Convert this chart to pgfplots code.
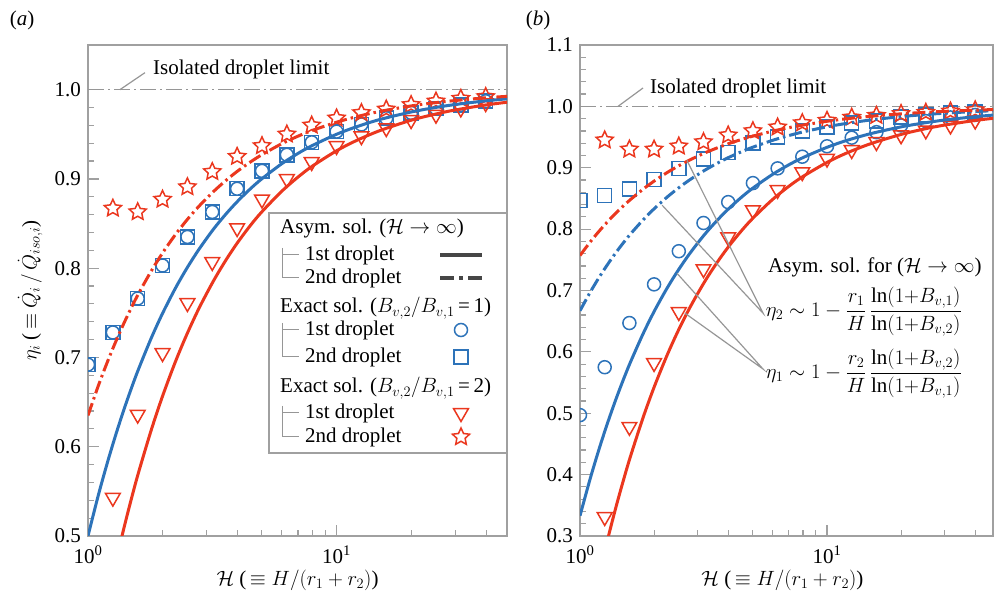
\documentclass[border=0pt]{standalone}
\usepackage{fontspec}
\setmainfont{Liberation Serif}
\usepackage{pgfplots}
\pgfplotsset{compat=1.18}
\definecolor{cblue}{RGB}{45,115,185}
\definecolor{cred}{RGB}{235,55,30}
\definecolor{caxis}{RGB}{160,160,160}
\definecolor{cleg}{RGB}{70,70,70}
\definecolor{cann}{RGB}{150,150,150}
\newcommand\fnt{\fontsize{21bp}{25bp}\selectfont}
\pgfdeclareplotmark{ostar}{%
  \pgfpathmoveto{\pgfpointpolar{90}{\pgfplotmarksize}}%
  \pgfpathlineto{\pgfpointpolar{126}{0.48\pgfplotmarksize}}%
  \pgfpathlineto{\pgfpointpolar{162}{\pgfplotmarksize}}%
  \pgfpathlineto{\pgfpointpolar{198}{0.48\pgfplotmarksize}}%
  \pgfpathlineto{\pgfpointpolar{234}{\pgfplotmarksize}}%
  \pgfpathlineto{\pgfpointpolar{270}{0.48\pgfplotmarksize}}%
  \pgfpathlineto{\pgfpointpolar{306}{\pgfplotmarksize}}%
  \pgfpathlineto{\pgfpointpolar{342}{0.48\pgfplotmarksize}}%
  \pgfpathlineto{\pgfpointpolar{18}{\pgfplotmarksize}}%
  \pgfpathlineto{\pgfpointpolar{54}{0.48\pgfplotmarksize}}%
  \pgfpathclose\pgfusepathqstroke}
\tikzset{
  mydd/.style={dash pattern=on 13bp off 4bp on 2.5bp off 4bp},
  myiso/.style={draw=cann, line width=1.3bp, dash pattern=on 16bp off 4bp on 2bp off 4bp},
}
\begin{document}
\begin{tikzpicture}[font=\fnt]
% ---------------- panel (a)
\begin{axis}[scale only axis, xmode=log, xmin=1, xmax=48.5, height=491bp, width=419bp,
  at={(88bp,60bp)}, anchor=south west,
  ymin=0.5, ymax=1.05, ytick={0.5,0.6,0.7,0.8,0.9,1.0},
  axis line style={caxis, line width=1.2bp},
  tick style={caxis, line width=1.2bp},
  major tick length=11bp, minor tick length=6bp,
  tick align=inside, xtick pos=bottom, ytick pos=left,
  xtick={1,10}, xticklabels={10\textsuperscript{0},10\textsuperscript{1}},
  minor xtick={2,3,4,5,6,7,8,9,20,30,40},
  minor y tick num=4, clip marker paths=true,
  /pgf/number format/assume math mode=true,
  yticklabel style={inner sep=0pt, xshift=-7bp, /pgf/number format/fixed,/pgf/number format/fixed zerofill,/pgf/number format/precision=1},
  xticklabel style={inner sep=0pt, yshift=-10bp},
  tick label style={font=\fnt}, label style={font=\fnt},
  xlabel={$\mathcal{H}$ (\,$\equiv H/(r_1+r_2)$)},
  xlabel style={at={(axis description cs:0.5,-0.09)}, anchor=center},
  ylabel={$\eta_i$ (\,$\equiv \dot{Q}_i\,/\,\dot{Q}_{iso,i}$)},
  ylabel style={at={(axis description cs:-0.138,0.5)}, anchor=center}]
\addplot[myiso] coordinates {(1,1) (50,1)};
\addplot[only marks, cblue, mark=o, mark size=6.5bp, line width=1.5bp] coordinates {(1,0.692)(1.259,0.728)(1.585,0.766)(1.995,0.803)(2.512,0.835)(3.162,0.863)(3.981,0.889)(5.012,0.909)(6.310,0.927)(7.943,0.941)(10,0.953)(12.59,0.961)(15.85,0.968)(19.95,0.974)(25.12,0.979)(31.62,0.983)(39.81,0.987)(50.12,0.990)};
\addplot[only marks, cblue, mark=square, mark size=7bp, line width=1.5bp] coordinates {(1,0.692)(1.259,0.728)(1.585,0.766)(1.995,0.803)(2.512,0.835)(3.162,0.863)(3.981,0.889)(5.012,0.909)(6.310,0.927)(7.943,0.941)(10,0.953)(12.59,0.961)(15.85,0.968)(19.95,0.974)(25.12,0.979)(31.62,0.983)(39.81,0.987)(50.12,0.990)};
\addplot[only marks, cred, mark=triangle, mark size=8.5bp, line width=1.5bp, mark options={rotate=180}] coordinates {(1.259,0.543)(1.585,0.636)(1.995,0.705)(2.512,0.761)(3.162,0.807)(3.981,0.845)(5.012,0.877)(6.310,0.900)(7.943,0.919)(10,0.937)(12.59,0.948)(15.85,0.957)(19.95,0.966)(25.12,0.972)(31.62,0.979)(39.81,0.985)(50.12,0.988)};
\addplot[only marks, cred, mark=ostar, mark size=9bp, line width=1.5bp] coordinates {(1.259,0.867)(1.585,0.863)(1.995,0.877)(2.512,0.891)(3.162,0.908)(3.981,0.925)(5.012,0.937)(6.310,0.950)(7.943,0.960)(10,0.968)(12.59,0.974)(15.85,0.978)(19.95,0.983)(25.12,0.987)(31.62,0.990)(39.81,0.992)(50.12,0.994)};
\addplot[cblue, line width=3bp, smooth] coordinates {(1,0.5)(1.1,0.5455)(1.2,0.5833)(1.3,0.6154)(1.4,0.6429)(1.5,0.6667)(1.6,0.6875)(1.8,0.7222)(2,0.75)(2.25,0.7778)(2.5,0.8)(2.8,0.8214)(3.2,0.8438)(3.6,0.8611)(4,0.875)(4.5,0.8889)(5,0.9)(6,0.9167)(7,0.9286)(8,0.9375)(10,0.95)(12,0.9583)(15,0.9667)(20,0.975)(25,0.98)(30,0.9833)(40,0.9875)(50,0.99)};
\addplot[cred, line width=3bp, smooth] coordinates {(1.3,0.4731)(1.4,0.5107)(1.5,0.5433)(1.6,0.5719)(1.8,0.6194)(2,0.6575)(2.25,0.6956)(2.5,0.726)(2.8,0.7554)(3.2,0.7859)(3.6,0.8097)(4,0.8288)(4.5,0.8478)(5,0.863)(6,0.8858)(7,0.9021)(8,0.9144)(10,0.9315)(12,0.9429)(15,0.9543)(20,0.9658)(25,0.9726)(30,0.9772)(40,0.9829)(50,0.9863)};
\addplot[cred, line width=3bp, mydd, smooth] coordinates {(1,0.635)(1.1,0.6682)(1.2,0.6958)(1.3,0.7192)(1.4,0.7393)(1.5,0.7567)(1.6,0.7719)(1.8,0.7972)(2,0.8175)(2.25,0.8378)(2.5,0.854)(2.8,0.8696)(3.2,0.8859)(3.6,0.8986)(4,0.9088)(4.5,0.9189)(5,0.927)(6,0.9392)(7,0.9479)(8,0.9544)(10,0.9635)(12,0.9696)(15,0.9757)(20,0.9818)(25,0.9854)(30,0.9878)(40,0.9909)(50,0.9927)};
\draw[cann, line width=1.2bp] (axis cs:1.345,1.0) -- (axis cs:1.695,1.019);
\node[anchor=west, inner sep=0pt] at (axis cs:1.827,1.0224) {Isolated droplet limit};
\end{axis}
% ---------------- legend of panel (a), drawn as its own small axis (units: pixels of the reference)
\begin{axis}[scale only axis, at={(269bp,143bp)}, anchor=south west, width=238bp, height=240bp,
  xmin=0, xmax=238, ymin=0, ymax=240, xtick=\empty, ytick=\empty, clip=false,
  axis line style={caxis, line width=1.2bp}, axis background/.style={fill=white}]
\addplot[cleg, line width=3.5bp] coordinates {(171,198) (213,198)};
\addplot[cleg, line width=3.5bp, dash pattern=on 14bp off 5bp on 4bp off 5bp] coordinates {(171,175) (213,175)};
\addplot[only marks, cblue, mark=o, mark size=6.5bp, line width=1.5bp] coordinates {(192,123)};
\addplot[only marks, cblue, mark=square, mark size=7bp, line width=1.5bp] coordinates {(192,96)};
\addplot[only marks, cred, mark=triangle, mark size=8.5bp, line width=1.5bp, mark options={rotate=180}] coordinates {(192,40)};
\addplot[only marks, cred, mark=ostar, mark size=9bp, line width=1.5bp] coordinates {(192,16)};
% tree connectors
\draw[cann, line width=1bp] (axis cs:13,205) -- (axis cs:13,175) -- (axis cs:30,175) (axis cs:13,198) -- (axis cs:30,198);
\draw[cann, line width=1bp] (axis cs:13,130) -- (axis cs:13,96) -- (axis cs:30,96) (axis cs:13,123) -- (axis cs:30,123);
\draw[cann, line width=1bp] (axis cs:13,47) -- (axis cs:13,16) -- (axis cs:30,16) (axis cs:13,40) -- (axis cs:30,40);
\node[anchor=base west, inner sep=0pt] at (axis cs:11,219) {Asym. sol. ($\mathcal{H}\rightarrow\infty$)};
\node[anchor=base west, inner sep=0pt] at (axis cs:36,192) {1st droplet};
\node[anchor=base west, inner sep=0pt] at (axis cs:36,169) {2nd droplet};
\node[anchor=base west, inner sep=0pt] at (axis cs:11,140) {Exact sol. ($B_{v,2}/B_{v,1}$\,=\,1)};
\node[anchor=base west, inner sep=0pt] at (axis cs:36,117) {1st droplet};
\node[anchor=base west, inner sep=0pt] at (axis cs:36,90) {2nd droplet};
\node[anchor=base west, inner sep=0pt] at (axis cs:11,60) {Exact sol. ($B_{v,2}/B_{v,1}$\,=\,2)};
\node[anchor=base west, inner sep=0pt] at (axis cs:36,34) {1st droplet};
\node[anchor=base west, inner sep=0pt] at (axis cs:36,10) {2nd droplet};
\end{axis}
% ---------------- panel (b)
\begin{axis}[scale only axis, xmode=log, xmin=1, xmax=47, height=491bp, width=413bp,
  at={(580bp,60bp)}, anchor=south west,
  ymin=0.3, ymax=1.1, ytick={0.3,0.4,0.5,0.6,0.7,0.8,0.9,1.0,1.1},
  axis line style={caxis, line width=1.2bp},
  tick style={caxis, line width=1.2bp},
  major tick length=11bp, minor tick length=6bp,
  tick align=inside, xtick pos=bottom, ytick pos=left,
  xtick={1,10}, xticklabels={10\textsuperscript{0},10\textsuperscript{1}},
  minor xtick={2,3,4,5,6,7,8,9,20,30,40},
  minor y tick num=4, clip marker paths=true,
  /pgf/number format/assume math mode=true,
  yticklabel style={inner sep=0pt, xshift=-7bp, /pgf/number format/fixed,/pgf/number format/fixed zerofill,/pgf/number format/precision=1},
  xticklabel style={inner sep=0pt, yshift=-10bp},
  tick label style={font=\fnt}, label style={font=\fnt},
  xlabel={$\mathcal{H}$ (\,$\equiv H/(r_1+r_2)$)},
  xlabel style={at={(axis description cs:0.49,-0.09)}, anchor=center}]
\addplot[myiso] coordinates {(1,1) (50,1)};
\addplot[only marks, cblue, mark=o, mark size=6.5bp, line width=1.5bp] coordinates {(1,0.497)(1.259,0.575)(1.585,0.647)(1.995,0.710)(2.512,0.764)(3.162,0.810)(3.981,0.844)(5.012,0.875)(6.310,0.899)(7.943,0.918)(10,0.935)(12.59,0.949)(15.85,0.958)(19.95,0.969)(25.12,0.976)(31.62,0.982)(39.81,0.986)(50.12,0.989)};
\addplot[only marks, cblue, mark=square, mark size=7bp, line width=1.5bp] coordinates {(1,0.847)(1.259,0.855)(1.585,0.865)(1.995,0.881)(2.512,0.899)(3.162,0.914)(3.981,0.925)(5.012,0.940)(6.310,0.950)(7.943,0.960)(10,0.966)(12.59,0.973)(15.85,0.976)(19.95,0.983)(25.12,0.986)(31.62,0.989)(39.81,0.991)(50.12,0.993)};
\addplot[only marks, cred, mark=triangle, mark size=8.5bp, line width=1.5bp, mark options={rotate=180}] coordinates {(1.259,0.331)(1.585,0.478)(1.995,0.582)(2.512,0.665)(3.162,0.735)(3.981,0.787)(5.012,0.831)(6.310,0.864)(7.943,0.893)(10,0.915)(12.59,0.929)(15.85,0.942)(19.95,0.953)(25.12,0.961)(31.62,0.969)(39.81,0.977)(50.12,0.981)};
\addplot[only marks, cred, mark=ostar, mark size=9bp, line width=1.5bp] coordinates {(1.259,0.945)(1.585,0.930)(1.995,0.930)(2.512,0.935)(3.162,0.942)(3.981,0.953)(5.012,0.960)(6.310,0.966)(7.943,0.973)(10,0.977)(12.59,0.982)(15.85,0.985)(19.95,0.988)(25.12,0.990)(31.62,0.992)(39.81,0.994)(50.12,0.995)};
\addplot[cblue, line width=3bp, smooth] coordinates {(1,0.333)(1.1,0.3936)(1.2,0.4442)(1.3,0.4869)(1.4,0.5236)(1.5,0.5553)(1.6,0.5831)(1.8,0.6294)(2,0.6665)(2.25,0.7036)(2.5,0.7332)(2.8,0.7618)(3.2,0.7916)(3.6,0.8147)(4,0.8333)(4.5,0.8518)(5,0.8666)(6,0.8888)(7,0.9047)(8,0.9166)(10,0.9333)(12,0.9444)(15,0.9555)(20,0.9667)(25,0.9733)(30,0.9778)(40,0.9833)(50,0.9867)};
\addplot[cblue, line width=3bp, mydd, smooth] coordinates {(1,0.667)(1.1,0.6973)(1.2,0.7225)(1.3,0.7438)(1.4,0.7621)(1.5,0.778)(1.6,0.7919)(1.8,0.815)(2,0.8335)(2.25,0.852)(2.5,0.8668)(2.8,0.8811)(3.2,0.8959)(3.6,0.9075)(4,0.9168)(4.5,0.926)(5,0.9334)(6,0.9445)(7,0.9524)(8,0.9584)(10,0.9667)(12,0.9723)(15,0.9778)(20,0.9834)(25,0.9867)(30,0.9889)(40,0.9917)(50,0.9933)};
\addplot[cred, line width=3bp, smooth] coordinates {(1.2,0.2392)(1.3,0.2977)(1.4,0.3479)(1.5,0.3913)(1.6,0.4294)(1.8,0.4928)(2,0.5435)(2.25,0.5942)(2.5,0.6348)(2.8,0.6739)(3.2,0.7147)(3.6,0.7464)(4,0.7718)(4.5,0.7971)(5,0.8174)(6,0.8478)(7,0.8696)(8,0.8859)(10,0.9087)(12,0.9239)(15,0.9391)(20,0.9544)(25,0.9635)(30,0.9696)(40,0.9772)(50,0.9817)};
\addplot[cred, line width=3bp, mydd, smooth] coordinates {(1,0.757)(1.1,0.7791)(1.2,0.7975)(1.3,0.8131)(1.4,0.8264)(1.5,0.838)(1.6,0.8481)(1.8,0.865)(2,0.8785)(2.25,0.892)(2.5,0.9028)(2.8,0.9132)(3.2,0.9241)(3.6,0.9325)(4,0.9393)(4.5,0.946)(5,0.9514)(6,0.9595)(7,0.9653)(8,0.9696)(10,0.9757)(12,0.9798)(15,0.9838)(20,0.9879)(25,0.9903)(30,0.9919)(40,0.9939)(50,0.9951)};
\draw[cann, line width=1.2bp] (axis cs:1.425,1.0) -- (axis cs:1.8,1.03);
\node[anchor=west, inner sep=0pt] at (axis cs:1.92,1.03) {Isolated droplet limit};
\draw[cann, line width=1.2bp] (axis cs:2.71,0.912) -- (axis cs:5.51,0.663) -- (axis cs:2.15,0.839);
\draw[cann, line width=1.2bp] (axis cs:2.47,0.728) -- (axis cs:5.51,0.572) -- (axis cs:2.66,0.663);
\node[anchor=west, inner sep=0pt] at (axis cs:5.77,0.738) {Asym. sol. for ($\mathcal{H}\rightarrow\infty$)};
\node[anchor=west, inner sep=0pt] at (axis cs:5.65,0.666) {$\eta_2\sim 1-\displaystyle\frac{r_1}{H}\,\frac{\ln(1{+}B_{v,1})}{\ln(1{+}B_{v,2})}$};
\node[anchor=west, inner sep=0pt] at (axis cs:5.65,0.564) {$\eta_1\sim 1-\displaystyle\frac{r_2}{H}\,\frac{\ln(1{+}B_{v,2})}{\ln(1{+}B_{v,1})}$};
\end{axis}
\node at (22bp,576bp) {(\textit{a})};
\node at (538bp,576bp) {(\textit{b})};
\pgfresetboundingbox
\useasboundingbox (0,0) rectangle (995bp,596bp);
\end{tikzpicture}
\end{document}
